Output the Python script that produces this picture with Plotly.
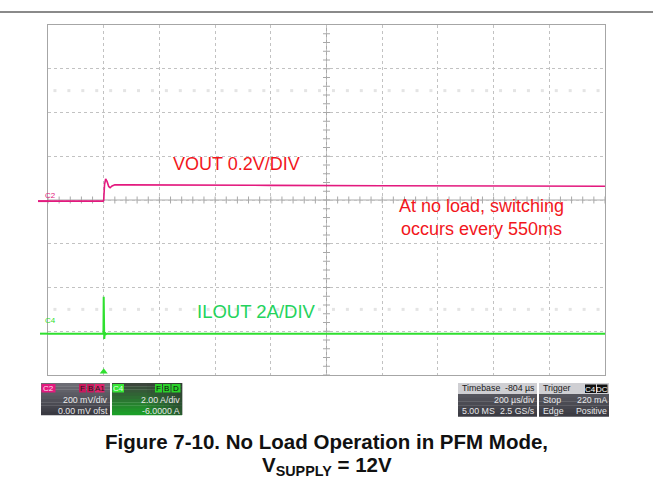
import numpy as np
import plotly.graph_objects as go

W, H = 653, 486

# ---- scope settings ----------------------------------------------------
t_range = [-200, 1800]        # microseconds, 200 us/div, trigger at 0
vout_range = [-0.8, 0.8]      # C2: 0.2 V/div, 0 V offset
ilout_range = [-2.0, 14.0]    # C4: 2 A/div, -6 A offset
trigger_time = 0
trigger_level = 0.22          # A

# ---- captured waveforms ------------------------------------------------
vout_t = [-200, -120, -60, -2, 0, 3, 7, 12, 18, 23, 30, 40, 80, 200, 600, 1000, 1400, 1800]
vout_v = [-0.005, -0.004, -0.006, -0.005, 0.0, 0.07, 0.096, 0.085, 0.062, 0.056,
          0.064, 0.070, 0.069, 0.068, 0.067, 0.065, 0.064, 0.063]

ilout_t = [-200, -1, 0, 2, 4, 7, 12, 1800]
ilout_a = [-0.11, -0.11, 1.58, -0.35, -0.05, -0.14, -0.11, -0.11]

# ---- pixel helpers for the screen furniture ----------------------------
def X(px):
    return px / W

def Y(py):
    return 1 - py / H

PINK = "#e3197e"
GREEN = "#2fe02f"
GRID = "#c2c2c2"
FRAME = "#a6a6a6"

fig = go.Figure()

# faint graticule marks in the 2nd and 7th rows
ghost_x = np.arange(t_range[0] + 25, t_range[1], 50)
for yv in (0.5, -0.5):
    fig.add_trace(go.Scatter(
        x=ghost_x, y=np.full(len(ghost_x), yv), mode="markers",
        marker=dict(symbol="square", size=3, color="#e4e4e4"),
        hoverinfo="skip", showlegend=False))

# centre-cross minor ticks
hx = np.arange(t_range[0], t_range[1] + 1, 40)
fig.add_trace(go.Scatter(
    x=hx, y=np.zeros(len(hx)), mode="markers",
    marker=dict(symbol="line-ns", size=5, line=dict(width=1, color="#a8a8a8")),
    hoverinfo="skip", showlegend=False))
vy = np.arange(vout_range[0], vout_range[1] + 1e-9, 0.04)
fig.add_trace(go.Scatter(
    x=np.full(len(vy), 800), y=vy, mode="markers",
    marker=dict(symbol="line-ew", size=5, line=dict(width=1, color="#a8a8a8")),
    hoverinfo="skip", showlegend=False))

# waveforms
fig.add_trace(go.Scatter(x=vout_t, y=vout_v, mode="lines",
                         line=dict(color=PINK, width=1.6),
                         name="VOUT", showlegend=False))
fig.add_trace(go.Scatter(x=ilout_t, y=ilout_a, mode="lines", yaxis="y2",
                         line=dict(color=GREEN, width=2),
                         name="ILOUT", showlegend=False))

# trigger position (bottom) and trigger level (right) markers
fig.add_trace(go.Scatter(
    x=[trigger_time], y=[vout_range[0] + 0.015], mode="markers", cliponaxis=False,
    marker=dict(symbol="triangle-up", size=7, color=GREEN),
    hoverinfo="skip", showlegend=False))
fig.add_trace(go.Scatter(
    x=[t_range[1] + 14], y=[trigger_level], yaxis="y2", mode="markers", cliponaxis=False,
    marker=dict(symbol="triangle-left", size=7, color=GREEN),
    hoverinfo="skip", showlegend=False))

shapes = []
annotations = []

# centre cross
shapes.append(dict(type="line", xref="x", yref="y", x0=t_range[0], x1=t_range[1],
                   y0=0, y1=0, line=dict(color="#a8a8a8", width=1), layer="below"))
shapes.append(dict(type="line", xref="x", yref="y", x0=800, x1=800,
                   y0=vout_range[0], y1=vout_range[1],
                   line=dict(color="#a8a8a8", width=1), layer="below"))

# rule across the top of the page
shapes.append(dict(type="line", xref="paper", yref="paper", x0=0, x1=1,
                   y0=Y(12), y1=Y(12), line=dict(color="#8a8a8a", width=2)))

# channel ground markers on the left edge
shapes.append(dict(type="line", xref="paper", yref="y", x0=X(38), x1=X(48),
                   y0=vout_v[0], y1=vout_v[0], line=dict(color=PINK, width=2)))
shapes.append(dict(type="line", xref="paper", yref="y2", x0=X(40), x1=X(48),
                   y0=ilout_a[0], y1=ilout_a[0], line=dict(color=GREEN, width=2)))
annotations.append(dict(text="C2", x=X(43), y=Y(195.5), xref="paper", yref="paper",
                        showarrow=False, font=dict(size=8, color=PINK, family="Liberation Sans")))
annotations.append(dict(text="C4", x=X(43), y=Y(326.5), xref="paper", yref="paper",
                        showarrow=False, font=dict(size=8, color=GREEN, family="Liberation Sans")))


def hex2rgb(c):
    c = c.lstrip("#")
    return [int(c[i:i + 2], 16) for i in (0, 2, 4)]


def mix(c1, c2, f):
    a, b = hex2rgb(c1), hex2rgb(c2)
    return "rgb(%d,%d,%d)" % tuple(round(a[i] + (b[i] - a[i]) * f) for i in range(3))


def grad_rect(x0, x1, y0, y1, top, bot, n=10):
    step = (y1 - y0) / n
    for i in range(n):
        shapes.append(dict(type="rect", xref="paper", yref="paper",
                           x0=X(x0), x1=X(x1), y0=Y(y0 + i * step), y1=Y(y0 + (i + 1) * step + 0.3),
                           line=dict(width=0), fillcolor=mix(top, bot, i / (n - 1))))


def rect(x0, x1, y0, y1, color, opacity=1.0):
    shapes.append(dict(type="rect", xref="paper", yref="paper",
                       x0=X(x0), x1=X(x1), y0=Y(y0), y1=Y(y1),
                       line=dict(width=0), fillcolor=color, opacity=opacity))


def label(text, px, py, color, anchor="left", size=8.8):
    annotations.append(dict(text=text,
                            x=X(px), y=Y(py), xref="paper", yref="paper",
                            xanchor=anchor, yanchor="middle", showarrow=False,
                            font=dict(size=size, color=color, family="Liberation Sans")))


def tag(text, x0, x1, y0, y1, bg, fg):
    rect(x0, x1, y0, y1, bg)
    label(text, (x0 + x1) / 2, (y0 + y1) / 2 + 0.3, fg, anchor="center", size=8)


R1, R2, R3 = 388.3, 400.0, 411.2
LIGHT = "#e8e8ea"

# C2 channel box
grad_rect(41, 110, 383, 415, "#6c6c74", "#3a3a42")
tag("C2", 41.5, 55.5, 384, 392.5, PINK, "#ffe0ef")
tag("F", 79, 86, 384, 392.5, "#c81a5e", "#1a1a1a")
tag("B", 87, 94, 384, 392.5, "#c81a5e", "#1a1a1a")
tag("A1", 95, 104.5, 384, 392.5, "#e0246c", "#1a1a1a")
label("200 mV/div", 109.5, R2, LIGHT, anchor="right")
label("0.00 mV ofst", 109.5, R3, LIGHT, anchor="right")

# C4 channel box
grad_rect(112, 182, 383, 415, "#3c463c", "#1c9e28")
for i in range(8):
    f = i / 7
    rect(112 + 35 + i * 4.4, 112 + 35 + (i + 1) * 4.4 + 0.3, 383, 415, "#2e3a32", opacity=0.12 + 0.55 * f)
tag("C4", 112.5, 124, 384, 392.5, "#36e636", "#e6ffe6")
tag("F", 155, 162, 384, 392.5, "#2bd22b", "#0a0a0a")
tag("B", 163, 170.5, 384, 392.5, "#2bd22b", "#0a0a0a")
tag("D", 171.5, 180.5, 384, 392.5, "#2bd22b", "#0a0a0a")
label("2.00 A/div", 181.5, R2, LIGHT, anchor="right")
label("-6.0000 A", 181.5, R3, LIGHT, anchor="right")

# timebase box
rect(458, 537, 383, 394, "#cfcfd3")
grad_rect(458, 537, 394, 416.5, "#55555d", "#3c3c44", n=6)
label("Timebase", 459.5, R1, "#202020")
label("-804 µs", 536.5, R1, "#202020", anchor="right")
label("200 µs/div", 536.5, R2, LIGHT, anchor="right")
label("5.00 MS", 459.5, R3, LIGHT)
label("2.5 GS/s", 536.5, R3, LIGHT, anchor="right")

# trigger box
rect(539, 609, 383, 394, "#cfcfd3")
grad_rect(539, 609, 394, 416.5, "#55555d", "#3c3c44", n=6)
label("Trigger", 540.5, R1, "#202020")
tag("C4", 585, 596, 384.5, 393, "#111111", "#ffffff")
tag("DC", 597, 607.5, 384.5, 393, "#111111", "#ffffff")
label("Stop", 540.5, R2, LIGHT)
label("220 mA", 608.5, R2, LIGHT, anchor="right")
label("Edge", 540.5, R3, LIGHT)
label("Positive", 608.5, R3, LIGHT, anchor="right")

# in-plot captions
RED = "#f2161c"
GTXT = "#24d35c"
annotations.append(dict(text="VOUT 0.2V/DIV", x=477, y=0.165, xref="x", yref="y",
                        showarrow=False, font=dict(size=18, color=RED, family="Liberation Sans")))
annotations.append(dict(text="At no load, switching<br>occurs every 550ms", x=1357, y=-0.078,
                        xref="x", yref="y", showarrow=False, align="center",
                        font=dict(size=18, color=RED, family="Liberation Sans")))
annotations.append(dict(text="ILOUT 2A/DIV", x=548, y=0.894, xref="x", yref="y2",
                        showarrow=False, font=dict(size=18.5, color=GTXT, family="Liberation Sans")))

# figure caption
annotations.append(dict(text="<b>Figure 7-10. No Load Operation in PFM Mode,</b>",
                        x=0.5, y=Y(441), xref="paper", yref="paper", showarrow=False,
                        yanchor="middle", font=dict(size=20.5, color="#111111", family="Liberation Sans")))
annotations.append(dict(text="<b>V<sub>SUPPLY</sub> = 12V</b>",
                        x=0.5, y=Y(466), xref="paper", yref="paper", showarrow=False,
                        yanchor="middle", font=dict(size=20.5, color="#111111", family="Liberation Sans")))

axis_common = dict(showticklabels=False, ticks="", zeroline=False,
                   showline=True, mirror=True, linecolor=FRAME, linewidth=1,
                   showgrid=True, gridcolor=GRID, griddash="dot", gridwidth=1)

fig.update_layout(
    width=W, height=H,
    margin=dict(l=0, r=0, t=0, b=0),
    paper_bgcolor="white", plot_bgcolor="white",
    showlegend=False,
    xaxis=dict(range=t_range, dtick=200, tick0=0, domain=[X(48), X(605)], **axis_common),
    yaxis=dict(range=vout_range, dtick=0.2, tick0=0, domain=[Y(375), Y(25)], **axis_common),
    yaxis2=dict(range=ilout_range, overlaying="y", showgrid=False, showticklabels=False,
                ticks="", zeroline=False, showline=False),
    shapes=shapes,
    annotations=annotations,
)

fig.write_html("out.html")
